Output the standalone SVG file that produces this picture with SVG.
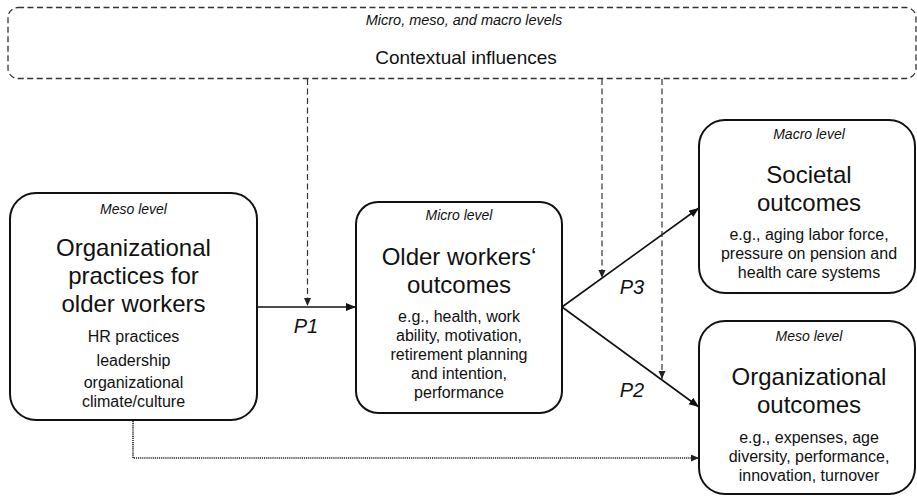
<svg xmlns="http://www.w3.org/2000/svg" width="917" height="496" viewBox="0 0 917 496">
<defs>
<style>
text{font-family:"Liberation Sans",Arial,sans-serif;fill:#111;text-anchor:middle}
.lvl{font-size:14px;font-style:italic}
.ttl{font-size:24px}
.body{font-size:16px}
.p{font-size:20px;font-style:italic}
.box{fill:#fff;stroke:#111;stroke-width:2}
.solid{fill:none;stroke:#111;stroke-width:1.6}
.dash{fill:none;stroke:#333;stroke-width:1.2;stroke-dasharray:6 3.5}
.dot{fill:none;stroke:#222;stroke-width:1.6;stroke-dasharray:1.2 0.9}
</style>
<marker id="ah" markerUnits="userSpaceOnUse" markerWidth="12" markerHeight="10" refX="10" refY="4" orient="auto">
<path d="M0,0 L10,4 L0,8 z" fill="#111"/>
</marker>
<marker id="ahs" markerUnits="userSpaceOnUse" markerWidth="10" markerHeight="8" refX="8" refY="3.5" orient="auto">
<path d="M0,0 L8,3.5 L0,7 z" fill="#222"/>
</marker>
</defs>

<g id="context">
<rect x="8" y="7.5" width="908" height="71" rx="10" class="dash" style="stroke-width:1.3"/>
<text x="464" y="25" class="lvl" style="font-size:14.5px">Micro, meso, and macro levels</text>
<text x="466" y="64" style="font-size:19px">Contextual influences</text>
</g>

<g id="connectors">
<line x1="257" y1="307" x2="356" y2="307" class="solid" marker-end="url(#ah)"/>
<line x1="562" y1="307" x2="699" y2="208" class="solid" marker-end="url(#ah)"/>
<line x1="562" y1="307" x2="699" y2="407" class="solid" marker-end="url(#ah)"/>
<line x1="307.5" y1="79" x2="307.5" y2="306" class="dash" marker-end="url(#ahs)"/>
<line x1="602" y1="79" x2="602" y2="278" class="dash" marker-end="url(#ahs)"/>
<line x1="662" y1="79" x2="662" y2="379" class="dash" marker-end="url(#ahs)"/>
<polyline points="133,421 133,458 699,458" class="dot" marker-end="url(#ahs)"/>
<text x="306" y="333" class="p">P1</text>
<text x="632" y="294" class="p">P3</text>
<text x="632" y="397" class="p">P2</text>
</g>

<g id="org-practices">
<rect x="10" y="193" width="247" height="227" rx="26" class="box"/>
<text x="133.5" y="214" class="lvl">Meso level</text>
<text x="133.5" y="256" class="ttl">Organizational</text>
<text x="133.5" y="284" class="ttl">practices for</text>
<text x="133.5" y="312" class="ttl">older workers</text>
<text x="133.5" y="342" class="body">HR practices</text>
<text x="133.5" y="366" class="body">leadership</text>
<text x="133.5" y="388" class="body">organizational</text>
<text x="133.5" y="407" class="body">climate/culture</text>
</g>

<g id="older-workers">
<rect x="356" y="202" width="206" height="211" rx="22" class="box"/>
<text x="459" y="220" class="lvl">Micro level</text>
<text x="459" y="265" class="ttl">Older workers‘</text>
<text x="459" y="293" class="ttl">outcomes</text>
<text x="459" y="322" class="body">e.g., health, work</text>
<text x="459" y="341" class="body">ability, motivation,</text>
<text x="459" y="360" class="body">retirement planning</text>
<text x="459" y="379" class="body">and intention,</text>
<text x="459" y="398" class="body">performance</text>
</g>

<g id="societal">
<rect x="699" y="120" width="216" height="173" rx="26" class="box"/>
<text x="809" y="139" class="lvl">Macro level</text>
<text x="809" y="183" class="ttl">Societal</text>
<text x="809" y="211" class="ttl">outcomes</text>
<text x="809" y="240" class="body">e.g., aging labor force,</text>
<text x="809" y="259" class="body">pressure on pension and</text>
<text x="809" y="278" class="body">health care systems</text>
</g>

<g id="organizational">
<rect x="699" y="321" width="216" height="173" rx="26" class="box"/>
<text x="809" y="341" class="lvl">Meso level</text>
<text x="809" y="385" class="ttl">Organizational</text>
<text x="809" y="413" class="ttl">outcomes</text>
<text x="809" y="443" class="body">e.g., expenses, age</text>
<text x="809" y="462" class="body">diversity, performance,</text>
<text x="809" y="481" class="body">innovation, turnover</text>
</g>
</svg>
